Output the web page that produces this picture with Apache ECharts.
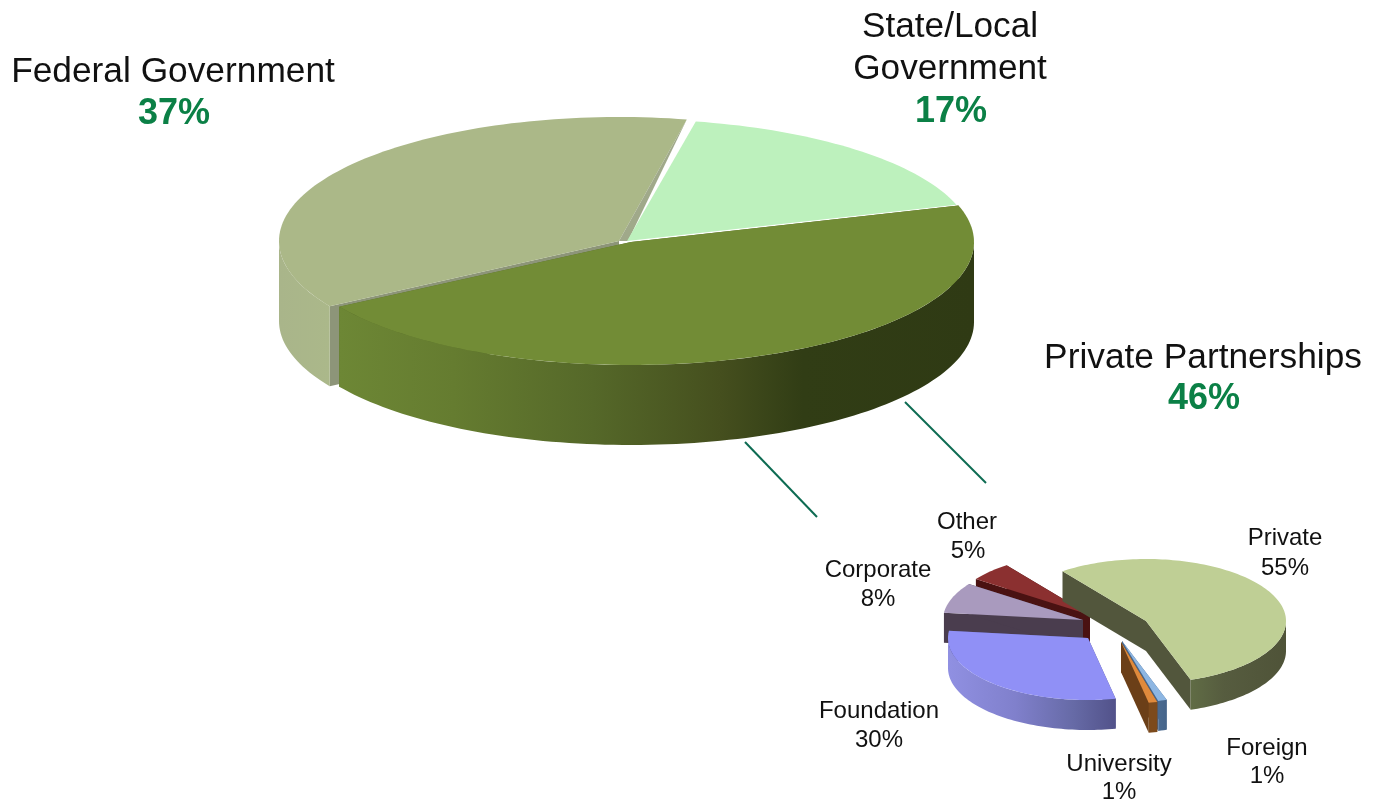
<!DOCTYPE html>
<html>
<head>
<meta charset="utf-8">
<style>html,body{margin:0;padding:0;background:#fff}#chart{width:1374px;height:801px}</style>
<script src="https://cdn.jsdelivr.net/npm/echarts@6/dist/echarts.min.js"></script>
</head>
<body>
<div id="chart"></div>
<script>
// ---- data ----
const fundingNames = ['Private Partnerships', 'Federal Government', 'State/Local\nGovernment'];
const fundingShares = [46, 37, 17];
const privateNames = ['Private', 'Foreign', 'University', 'Foundation', 'Corporate', 'Other'];
const privateShares = [55, 1, 1, 30, 8, 5];

// ---- appearance and layout ----
const FONT = '"Liberation Sans", Arial, sans-serif';
const mainStyle = {
  startAngle: 72.7, depth: 80,
  slices: [
    {layer: 9, cx: 631, cy: 242, rx: 343, ry: 123, top: '#728c36', side: '#556a28',
     wall: [[0, '#6d8735'], [0.18, '#657c30'], [0.4, '#556829'], [0.6, '#454f1e'], [0.73, '#313d15'], [1, '#2f3a14']]},
    {layer: 7, cx: 619, cy: 241, rx: 340, ry: 124, top: '#abb888', side: '#8d9579', noEndFace: true,
     wall: [[0, '#a9b58a'], [1, '#abb88a']], sliver: {dx: 9, fill: '#a0a98a'}},
    {layer: 8, cx: 627, cy: 241, rx: 345, ry: 122, top: '#bdf1bd', side: '#9cc79c', noEndFace: true,
     wall: [[0, '#9cc79c'], [1, '#9cc79c']]}
  ],
  labels: [
    {x: 1203, y: 358, size: 35.3, px: 1204, py: 399},
    {x: 173, y: 72, size: 35.3, px: 174, py: 114},
    {x: 950, y: 48, size: 35.2, px: 951, py: 112, lh: 42}
  ],
  nameFill: '#111111', shareFill: '#0b8046', shareSize: 36
};
const subStyle = {
  startAngle: -36.6, depth: 30,
  slices: [
    {layer: 9, cx: 1146, cy: 621, rx: 140, ry: 62, top: '#bfcf95', side: '#52563c',
     wall: [[0, '#606c45'], [0.35, '#565c3f'], [1, '#4f5338']]},
    {layer: 7, cx: 1122, cy: 641, rx: 140, ry: 62, top: '#8db6e2', side: '#46658a',
     wall: [[0, '#4a6a90'], [1, '#46658a']]},
    {layer: 8, cx: 1121, cy: 642, rx: 140, ry: 62, top: '#e08a3c', side: '#6b3f18',
     wall: [[0, '#7c4a1c'], [1, '#7c4a1c']]},
    {layer: 6, cx: 1088, cy: 638, rx: 140, ry: 62, top: '#9090f6', side: '#55558a',
     wall: [[0, '#9090e2'], [0.4, '#8080cc'], [0.75, '#666aa6'], [1, '#52528a']]},
    {layer: 5, cx: 1083, cy: 620, rx: 140, ry: 62, top: '#a99abe', side: '#4a3d4e',
     wall: [[0, '#4a3d4e'], [1, '#4a3d4e']]},
    {layer: 4, cx: 1090, cy: 615, rx: 140, ry: 62, top: '#8b3030', side: '#4a1212',
     wall: [[0, '#4a1212'], [1, '#4a1212']]}
  ],
  labels: [
    {x: 1285, y: 538, size: 24, px: 1285, py: 568},
    {x: 1267, y: 748, size: 24, px: 1267, py: 776},
    {x: 1119, y: 764, size: 24, px: 1119, py: 792},
    {x: 879, y: 711, size: 24, px: 879, py: 740},
    {x: 878, y: 570, size: 24, px: 878, py: 599},
    {x: 967, y: 522, size: 24, px: 968, py: 551}
  ],
  nameFill: '#111111', shareFill: '#111111', shareSize: 24
};

const RAD = Math.PI / 180;
function rim(s, deg, down) {
  return [s.cx + s.rx * Math.sin(deg * RAD), s.cy - s.ry * Math.cos(deg * RAD) + (down || 0)];
}
function arc(s, a0, a1, down) {
  const pts = [], n = Math.max(2, Math.ceil(Math.abs(a1 - a0) / 1.5));
  for (let i = 0; i <= n; i++) pts.push(rim(s, a0 + (a1 - a0) * i / n, down));
  return pts;
}
function frontRange(a0, a1) {
  for (const shift of [0, 360, -360]) {
    const lo = Math.max(a0, 90 + shift), hi = Math.min(a1, 270 + shift);
    if (hi > lo) return [lo, hi];
  }
  return null;
}
function makeRenderer(values, names, cfg) {
  const total = values.reduce((a, b) => a + b, 0);
  return function (params, api) {
    const i = params.dataIndex, s = cfg.slices[i], l = cfg.labels[i];
    let before = 0;
    for (let k = 0; k < i; k++) before += values[k];
    const a0 = cfg.startAngle + before / total * 360;
    const a1 = a0 + api.value(0) / total * 360;
    const base = s.layer * 10, d = cfg.depth, apex = [s.cx, s.cy];
    const kids = [];
    const poly = (points, fill, k) => kids.push({type: 'polygon', z2: base + k, shape: {points}, style: {fill}});
    // radial faces
    [a0, a1].forEach((a, n) => {
      if (n === 1 && s.noEndFace) return;
      if (n === 0 && s.noEndFace && Math.sin(a * RAD) > 0) return;
      const p = rim(s, a);
      poly([p, apex, [s.cx, s.cy + d], [p[0], p[1] + d]], s.side, 1);
    });
    // outer face, only where it looks towards the viewer
    const fr = frontRange(a0, a1);
    if (fr) {
      poly(arc(s, fr[0], fr[1]).concat(arc(s, fr[1], fr[0], d)), {
        type: 'linear', x: 0, y: 0, x2: 1, y2: 0,
        colorStops: s.wall.map(w => ({offset: w[0], color: w[1]}))
      }, 2);
    }
    // top face
    poly([apex].concat(arc(s, a0, a1)), s.top, 3);
    if (s.sliver) poly([rim(s, a1), [s.cx + s.sliver.dx, s.cy], apex], s.sliver.fill, 4);
    // labels
    kids.push({type: 'text', z2: 500, style: {
      text: names[i], x: l.x, y: l.y, fill: cfg.nameFill,
      font: l.size + 'px ' + FONT, lineHeight: l.lh || l.size,
      textAlign: 'center', textVerticalAlign: 'middle', align: 'center', verticalAlign: 'middle'
    }});
    kids.push({type: 'text', z2: 500, style: {
      text: api.value(0) + '%', x: l.px, y: l.py, fill: cfg.shareFill,
      font: (cfg.shareFill === cfg.nameFill ? '' : 'bold ') + cfg.shareSize + 'px ' + FONT,
      textAlign: 'center', textVerticalAlign: 'middle', align: 'center', verticalAlign: 'middle'
    }});
    return {type: 'group', children: kids};
  };
}

const chart = echarts.init(document.getElementById('chart'), null, {renderer: 'canvas'});
chart.setOption({
  animation: false,
  backgroundColor: '#ffffff',
  graphic: [
    {type: 'line', silent: true, shape: {x1: 905, y1: 402, x2: 986, y2: 483}, style: {stroke: '#0d6b52', lineWidth: 2}},
    {type: 'line', silent: true, shape: {x1: 745, y1: 442, x2: 817, y2: 517}, style: {stroke: '#0d6b52', lineWidth: 2}}
  ],
  series: [
    {type: 'custom', name: 'Funding', coordinateSystem: 'none', silent: true,
     data: fundingShares.map(v => [v]), renderItem: makeRenderer(fundingShares, fundingNames, mainStyle)},
    {type: 'custom', name: 'Private Partnerships', coordinateSystem: 'none', silent: true,
     data: privateShares.map(v => [v]), renderItem: makeRenderer(privateShares, privateNames, subStyle)}
  ]
});
</script>
</body>
</html>
